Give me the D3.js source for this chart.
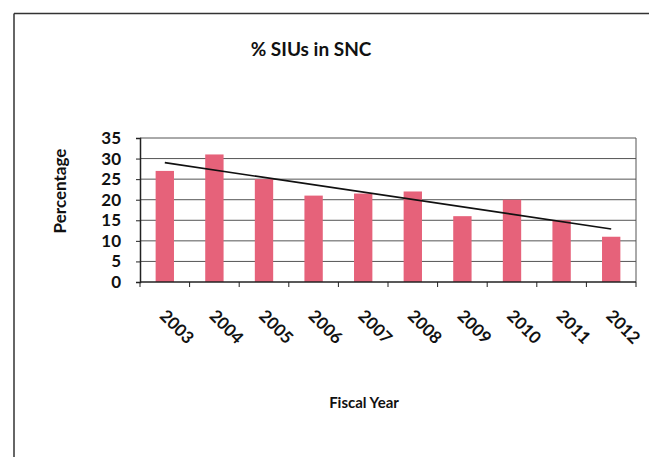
<!DOCTYPE html>
<html>
<head>
<meta charset="utf-8">
<script src="https://cdn.jsdelivr.net/npm/d3@7"></script>
<style>
  html, body { margin: 0; padding: 0; background: #fff; }
  text { font-family: Lato, "Open Sans", sans-serif; font-weight: bold; fill: #111; }
</style>
</head>
<body>
<svg id="chart" width="649" height="457"></svg>
<script>
const years = ["2003","2004","2005","2006","2007","2008","2009","2010","2011","2012"];
const values = [27, 31, 25, 21, 21.5, 22, 16, 20, 15, 11];
const yTicks = [0, 5, 10, 15, 20, 25, 30, 35];
const title = "% SIUs in SNC";
const xTitle = "Fiscal Year";
const yTitle = "Percentage";

const svg = d3.select("#chart");
const W = 649, H = 457;
const plot = { left: 140, right: 636, top: 138, bottom: 282 };

// outer chart border (top and left visible)
svg.append("line").attr("x1", 14).attr("x2", W + 5).attr("y1", 13.5).attr("y2", 13.5)
  .attr("stroke", "#333").attr("stroke-width", 1.5);
svg.append("line").attr("x1", 14).attr("x2", 14).attr("y1", 13.5).attr("y2", H + 5)
  .attr("stroke", "#333").attr("stroke-width", 1.5);

const x = d3.scaleBand().domain(years).range([plot.left, plot.right])
  .paddingInner(0.63).paddingOuter(0.315);
const y = d3.scaleLinear().domain([0, 35]).range([plot.bottom, plot.top]);

// gridlines
svg.append("g").selectAll("line").data(yTicks.filter(d => d > 0)).join("line")
  .attr("x1", plot.left).attr("x2", plot.right)
  .attr("y1", d => y(d)).attr("y2", d => y(d))
  .attr("stroke", "#555").attr("stroke-width", 1);

// plot right border
svg.append("line").attr("x1", plot.right).attr("x2", plot.right)
  .attr("y1", plot.top).attr("y2", plot.bottom)
  .attr("stroke", "#555").attr("stroke-width", 1);

// bars
svg.append("g").selectAll("rect").data(years).join("rect")
  .attr("x", d => x(d)).attr("width", x.bandwidth())
  .attr("y", (d, i) => y(values[i]))
  .attr("height", (d, i) => y(0) - y(values[i]))
  .attr("fill", "#e6627a");

// y axis
const yAxis = d3.axisLeft(y).tickValues(yTicks).tickSize(4).tickPadding(15);
const gy = svg.append("g").attr("transform", `translate(${plot.left},0)`).call(yAxis);
gy.select(".domain").attr("stroke", "#222").attr("stroke-width", 1.5);
gy.selectAll(".tick line").attr("stroke", "#222");
gy.selectAll("text").style("font-size", "17px").attr("fill", "#111");

// x axis
const gx = svg.append("g").attr("transform", `translate(0,${plot.bottom})`);
gx.append("line").attr("x1", plot.left).attr("x2", plot.right)
  .attr("y1", 0).attr("y2", 0).attr("stroke", "#222").attr("stroke-width", 1.5);
const step = x.step();
const boundaries = d3.range(years.length + 1).map(i => plot.left + i * step);
gx.selectAll(".xt").data(boundaries).join("line").attr("class", "xt")
  .attr("x1", d => d).attr("x2", d => d).attr("y1", 0).attr("y2", 5)
  .attr("stroke", "#222");
gx.selectAll(".xl").data(years).join("text").attr("class", "xl")
  .attr("transform", d => `translate(${x(d) + x.bandwidth() / 2 - 6},${35}) rotate(45)`)
  .attr("text-anchor", "start")
  .style("font-size", "17px")
  .text(d => d);

// linear trendline computed from the data (least squares)
const xs = values.map((v, i) => i + 1);
const mx = d3.mean(xs), my = d3.mean(values);
const slope = d3.sum(xs, (xi, i) => (xi - mx) * (values[i] - my)) / d3.sum(xs, xi => (xi - mx) ** 2);
const icpt = my - slope * mx;
const trend = years.map((d, i) => [x(d) + x.bandwidth() / 2, y(icpt + slope * (i + 1))]);
svg.append("path").datum([trend[0], trend[trend.length - 1]])
  .attr("d", d3.line()).attr("stroke", "#111").attr("stroke-width", 1.6).attr("fill", "none");

// titles
svg.append("text").attr("x", 311).attr("y", 56).attr("text-anchor", "middle")
  .style("font-size", "19px").text(title);
svg.append("text").attr("x", 364).attr("y", 408).attr("text-anchor", "middle")
  .style("font-size", "15px").text(xTitle);
svg.append("text").attr("transform", `translate(66,191) rotate(-90)`).attr("text-anchor", "middle")
  .style("font-size", "17px").text(yTitle);
</script>
</body>
</html>
